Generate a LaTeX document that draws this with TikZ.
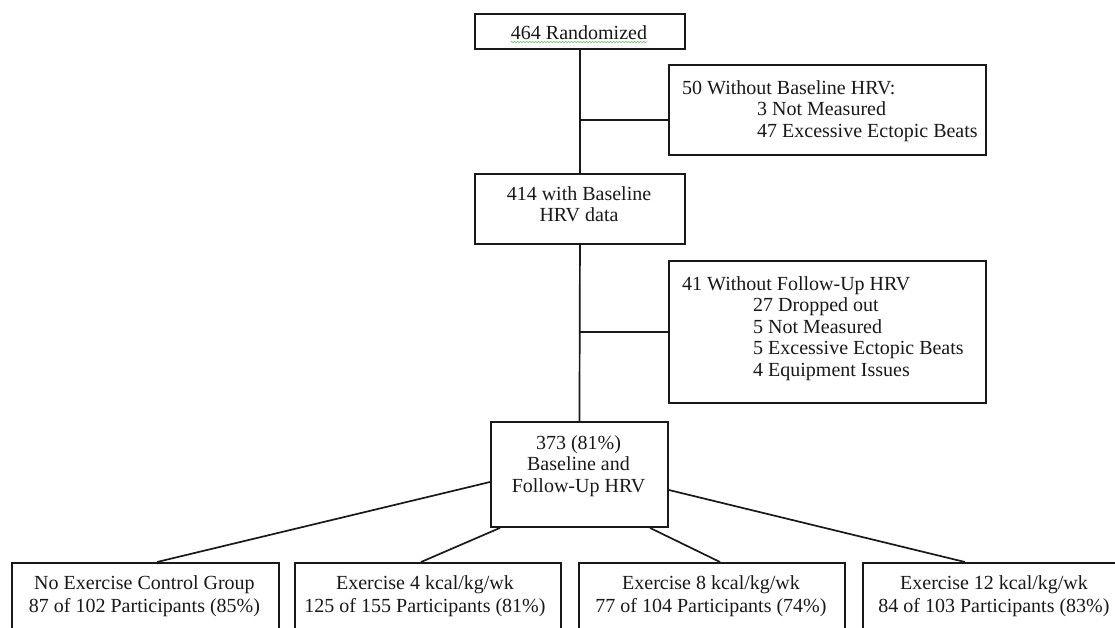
\documentclass[tikz,border=0pt]{standalone}
\usepackage{fontspec}
\setmainfont{Liberation Serif}
\usetikzlibrary{decorations.pathmorphing}
\begin{document}
\begin{tikzpicture}[x=1pt,y=-1pt,
  frame/.style={draw=black!90, line width=1.9pt, anchor=north west, inner sep=0pt},
  txt/.style={inner sep=0pt, font=\fontsize{20}{21.6}\selectfont, text=black!90},
  btxt/.style={inner sep=0pt, font=\fontsize{20}{23}\selectfont, text=black!90, align=center, anchor=north},
  conn/.style={draw=black!90, line width=1.7pt}]
\useasboundingbox (0,0) rectangle (1115,627);
\fill[white] (0,0) rectangle (1115,627);
% main column
\node[frame, minimum width=210pt, minimum height=35pt] (rand) at (474,13) {};
\node[txt, anchor=base] (randt) at (579,39) {464 Randomized};
\draw[green!55!black!55, line width=0.7pt, decorate, decoration={snake, amplitude=0.5pt, segment length=3pt}]
  ([yshift=-3pt]randt.base west) -- ([yshift=-3pt]randt.base east);
\node[frame, minimum width=210pt, minimum height=70pt] (base) at (474,173) {};
\node[txt, align=center, anchor=north] (baset) at (579,186) {414 with Baseline\\HRV data};
\node[frame, minimum width=177pt, minimum height=105pt] (mid) at (490,421) {};
\node[txt, align=center, anchor=north] (midt) at (578.5,435) {373 (81\%)\\Baseline and\\Follow-Up HRV};
% side boxes
\node[frame, minimum width=317pt, minimum height=90pt] (sideA) at (668,64) {};
\node[txt, align=left, anchor=north west] (sideAt) at (682,80)
  {50 Without Baseline HRV:\\\hspace*{75pt}3 Not Measured\\\hspace*{75pt}47 Excessive Ectopic Beats};
\node[frame, minimum width=317pt, minimum height=142pt] (sideB) at (668,260) {};
\node[txt, align=left, anchor=north west] (sideBt) at (682,276)
  {41 Without Follow-Up HRV\\\hspace*{71pt}27 Dropped out\\\hspace*{71pt}5 Not Measured\\\hspace*{71pt}5 Excessive Ectopic Beats\\\hspace*{71pt}4 Equipment Issues};
% bottom boxes
\node[frame, minimum width=267pt, minimum height=90pt] (g1) at (11,562) {};
\node[btxt] (g1t) at (144.5,575) {No Exercise Control Group\\87 of 102 Participants (85\%)};
\node[frame, minimum width=266pt, minimum height=90pt] (g2) at (294,562) {};
\node[btxt] (g2t) at (425,575) {Exercise 4 kcal/kg/wk\\125 of 155 Participants (81\%)};
\node[frame, minimum width=266pt, minimum height=90pt] (g3) at (578,562) {};
\node[btxt] (g3t) at (711,575) {Exercise 8 kcal/kg/wk\\77 of 104 Participants (74\%)};
\node[frame, minimum width=266pt, minimum height=90pt] (g4) at (862,562) {};
\node[btxt] (g4t) at (994,575) {Exercise 12 kcal/kg/wk\\84 of 103 Participants (83\%)};
% connectors
\draw[conn] (rand.south) -- (base.north);
\draw[conn] (base.south) -- (mid.north);
\draw[conn] ([yshift=-10pt]sideA.west) -- ([yshift=-10pt]sideA.west -| rand.south);
\draw[conn] (sideB.west) -- (sideB.west -| base.south);
\draw[conn] ([yshift=-61pt]mid.north west) -- ([xshift=146pt]g1.north west);
\draw[conn] ([xshift=10pt]mid.south west) -- ([xshift=127pt]g2.north west);
\draw[conn] ([xshift=160pt]mid.south west) -- ([xshift=142pt]g3.north west);
\draw[conn] ([yshift=-69pt]mid.north east) -- ([xshift=103pt]g4.north west);
\end{tikzpicture}
\end{document}
